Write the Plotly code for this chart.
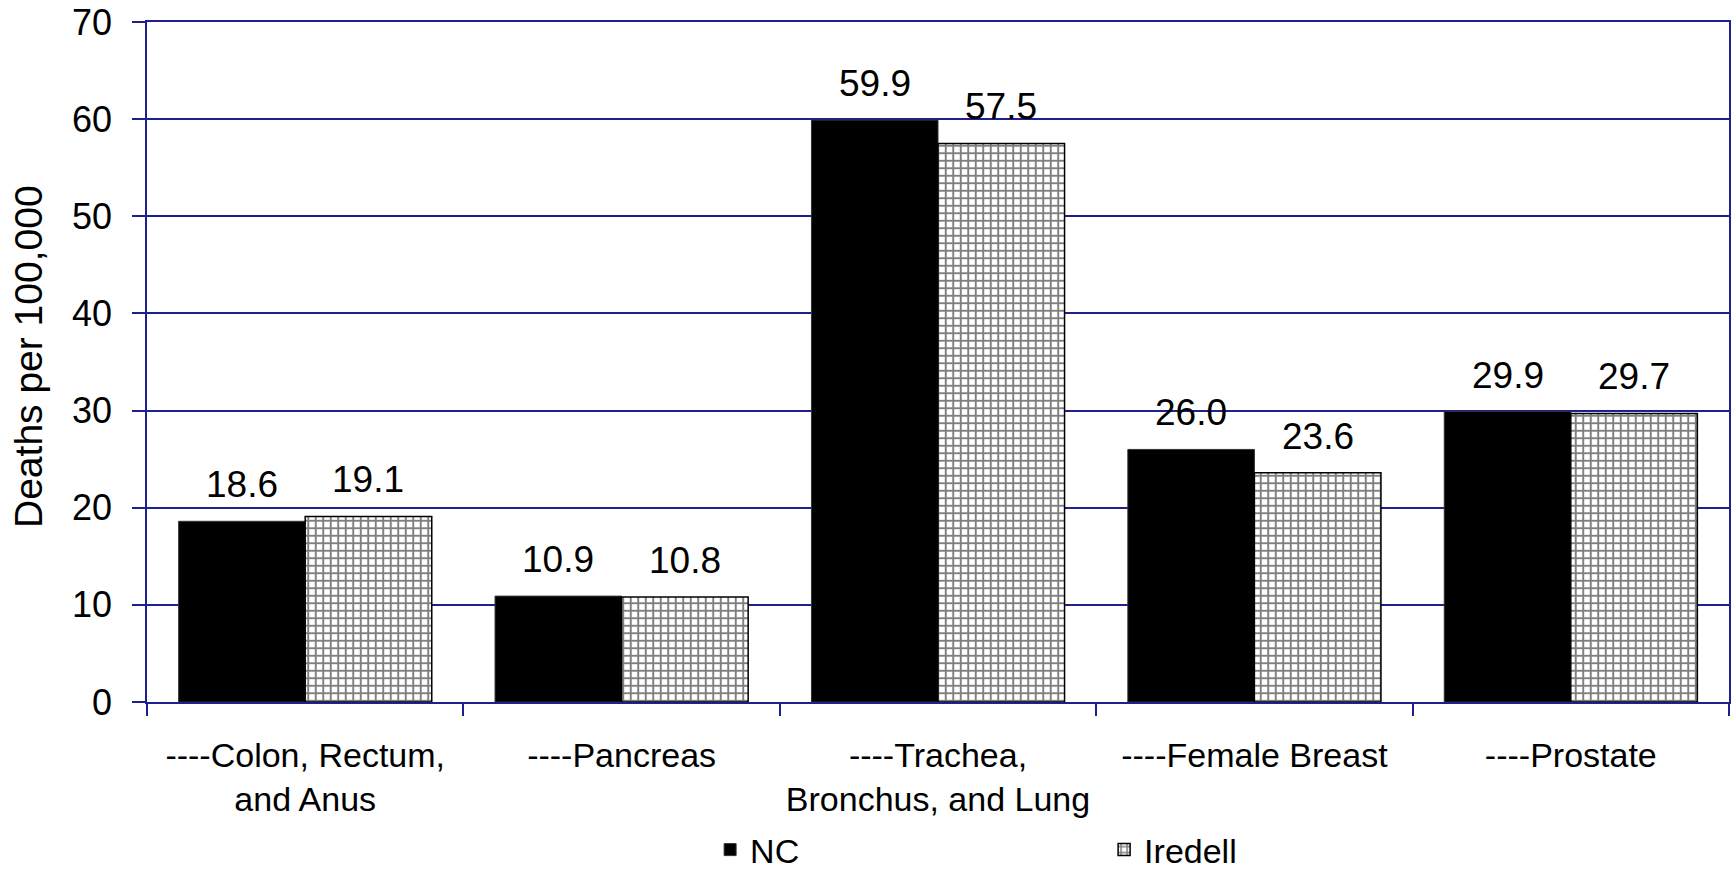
import plotly.graph_objects as go

categories = ["----Colon, Rectum,<br>and Anus", "----Pancreas",
              "----Trachea,<br>Bronchus, and Lung", "----Female Breast", "----Prostate"]
nc_values = [18.6, 10.9, 59.9, 26.0, 29.9]
iredell_values = [19.1, 10.8, 57.5, 23.6, 29.7]
series_names = ["NC", "Iredell"]
y_ticks = [0, 10, 20, 30, 40, 50, 60, 70]

NAVY = "#1f1f8f"
FONT = "Arial, Liberation Sans, sans-serif"

fig = go.Figure()
fig.add_trace(go.Bar(
    name=series_names[0], x=categories, y=nc_values,
    marker=dict(color="black", line=dict(color="#333333", width=1)),
))
fig.add_trace(go.Bar(
    name=series_names[1], x=categories, y=iredell_values,
    marker=dict(color="white", line=dict(color="black", width=1.5),
                pattern=dict(shape="+", fgcolor="black", bgcolor="white",
                             size=7.5, solidity=0.45)),
))

W, H = 1732, 869
ml, mr, mt, mb = 147, 3, 22, 167
plot_w = W - ml - mr
plot_h = H - mt - mb
cat_w = plot_w / len(categories)
bar_w = cat_w * 0.4

annotations = []
for vals, sign in ((nc_values, -1), (iredell_values, 1)):
    for c, v in zip(categories, vals):
        annotations.append(dict(
            x=c, y=v, xref="x", yref="y", text=f"{v:.1f}", showarrow=False,
            xshift=sign * bar_w / 2, yshift=14, yanchor="bottom",
            font=dict(family=FONT, size=37, color="black")))

annotations.append(dict(
    text="Deaths per 100,000", textangle=-90, showarrow=False,
    xref="paper", yref="paper", x=(28 - ml) / plot_w, y=345 / plot_h,
    xanchor="center", yanchor="middle",
    font=dict(family=FONT, size=39, color="black")))

fig.update_layout(
    width=W, height=H,
    margin=dict(l=ml, r=mr, t=mt, b=mb, pad=0, autoexpand=False),
    paper_bgcolor="white", plot_bgcolor="white",
    barmode="group", bargap=0.2, bargroupgap=0,
    font=dict(family=FONT, size=34, color="black"),
    showlegend=True,
    legend=dict(orientation="h", x=0.605, xanchor="center", y=-(850 - (H - mb)) / plot_h,
                yanchor="middle",
                font=dict(family=FONT, size=34, color="black"),
                entrywidth=349, itemwidth=30, traceorder="normal"),
    annotations=annotations,
)
fig.update_xaxes(
    type="category", showline=True, linecolor=NAVY, linewidth=1.5, mirror=True,
    ticks="outside", tickson="boundaries", ticklen=12, tickcolor=NAVY, tickwidth=1.5,
    showgrid=False, automargin=False, ticklabelstandoff=22,
    tickfont=dict(family=FONT, size=34, color="black"),
)
fig.update_yaxes(
    range=[0, 70], tickvals=y_ticks, showline=True, linecolor=NAVY, linewidth=1.5,
    mirror=True, ticks="outside", ticklen=13, tickcolor=NAVY, tickwidth=1.5,
    showgrid=True, gridcolor=NAVY, gridwidth=1.5, zeroline=False,
    automargin=False, ticklabelstandoff=13, ticklabeloverflow="allow",
    tickfont=dict(family=FONT, size=36, color="black"),
)

fig.write_html("out.html", config={"displayModeBar": False},
               post_script="document.body.style.margin='0';")
